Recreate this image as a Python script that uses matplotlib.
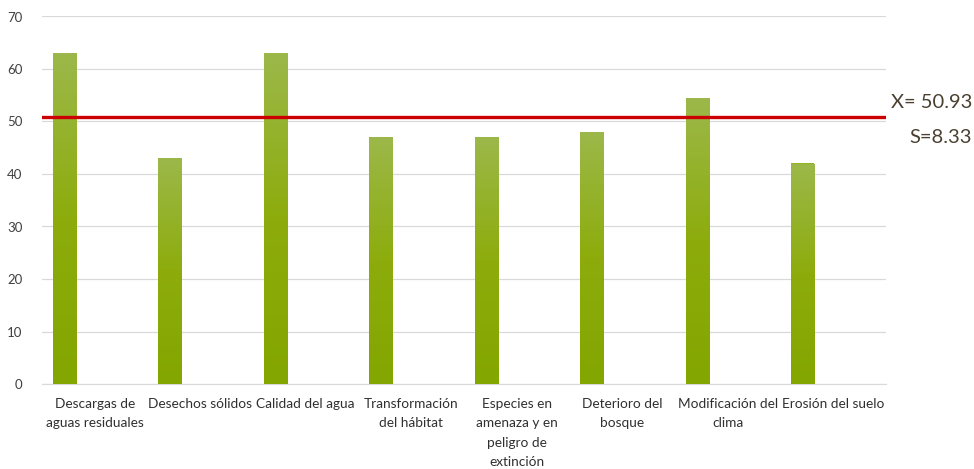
import matplotlib.pyplot as plt
import numpy as np
from matplotlib.colors import LinearSegmentedColormap

plt.rcParams['font.family'] = ['Lato', 'DejaVu Sans']

categories = ['Descargas de\naguas residuales', 'Desechos sólidos', 'Calidad del agua',
              'Transformación\ndel hábitat', 'Especies en\namenaza y en\npeligro de\nextinción',
              'Deterioro del\nbosque', 'Modificación del\nclima', 'Erosión del suelo']
values = [63, 43, 63, 47, 47, 48, 54.4, 42]
mean_value = 50.93
std_value = 8.33

fig = plt.figure(figsize=(9.74, 4.69), dpi=100)
ax = fig.add_axes([42 / 974, 85 / 469, 844 / 974, 367.5 / 469])

x = np.arange(len(categories))
bars = ax.bar(x - 0.29, values, width=0.22, color='#93b320', zorder=2)

# vertical gradient fill for each bar
grad = LinearSegmentedColormap.from_list('g', ['#84a600', '#8dac0c', '#9cb84a'])
for b in bars:
    x0, y0 = b.get_x(), b.get_y()
    w, h = b.get_width(), b.get_height()
    img = ax.imshow(np.linspace(0, 1, 256).reshape(-1, 1), cmap=grad, aspect='auto',
                    origin='lower', extent=[x0, x0 + w, y0, y0 + h], zorder=3)
    img.set_clip_path(b)

ax.axhline(mean_value, color='#cc0000', lw=2.4, zorder=4)

ax.set_xlim(-0.5, len(categories) - 0.5)
ax.set_ylim(0, 70)
ax.set_yticks(range(0, 71, 10))
ax.yaxis.grid(True, color='#d9d9d9', lw=0.9, zorder=0)
ax.set_axisbelow(True)
for s in ['top', 'right', 'left']:
    ax.spines[s].set_visible(False)
ax.spines['bottom'].set_color('#d9d9d9')
ax.tick_params(axis='y', length=0, pad=14, labelsize=9.5, labelcolor='#404040')
ax.tick_params(axis='x', length=0, pad=10, labelsize=9.8, labelcolor='#303030')
ax.set_xticks(x)
ax.set_xticklabels(categories, linespacing=1.75)

fig.text(972 / 974, (469 - 103) / 469, f'X= {mean_value:.2f}', ha='right', va='center',
         fontsize=14.5, color='#4a4030')
fig.text(972 / 974, (469 - 137) / 469, f'S={std_value:.2f}', ha='right', va='center',
         fontsize=14.5, color='#4a4030')

fig.savefig('out.png', dpi=100)
